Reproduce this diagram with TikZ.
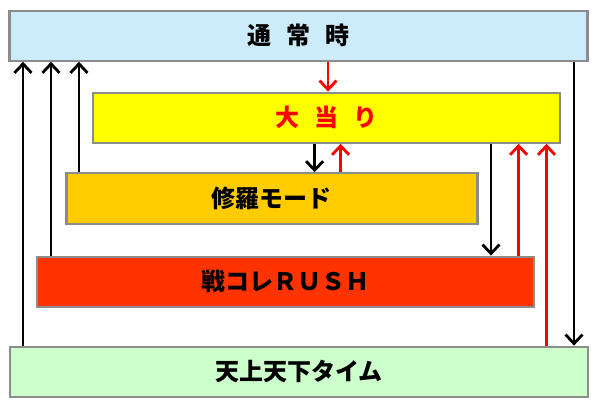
\documentclass[tikz,border=0pt]{standalone}
\usepackage{fontspec}
\newfontfamily\jpfont{Noto Sans CJK JP}
\usetikzlibrary{arrows.meta}
\definecolor{tsujoblue}{HTML}{CCEBFB}
\definecolor{tengegreen}{HTML}{CCFFCC}
\definecolor{atariyellow}{HTML}{FFFF00}
\definecolor{shuraorange}{HTML}{FFCC00}
\definecolor{rushred}{HTML}{FF3300}
\definecolor{boxgray}{HTML}{8C8C8C}
\tikzset{
  modebox/.style={draw=boxgray,line width=2.2pt,minimum height=50pt,inner sep=0pt,
    font=\jpfont\bfseries\fontsize{24}{28}\selectfont},
  blkarrow/.style={line width=2.8pt,-{Straight Barb[length=9pt,width=17pt,line width=2.8pt]}},
  redarrow/.style={blkarrow,draw=red}
}
\begin{document}
\begin{tikzpicture}[x=1pt,y=-1pt]
\useasboundingbox (0,0) rectangle (600,407);
\node[modebox,fill=tsujoblue,minimum width=578pt] (tsujo) at (298.5,35.7){通\hspace{15pt}常\hspace{15pt}時};
\node[modebox,fill=atariyellow,minimum width=467pt,text=red] (atari) at (326.8,117.7){大\hspace{15pt}当\hspace{15pt}り};
\node[modebox,fill=shuraorange,minimum width=411pt,minimum height=51pt] (shura) at (271.9,198.8){修羅モード};
\node[modebox,fill=rushred,minimum width=497pt] (rush) at (285.5,281.7){戦コレＲＵＳＨ};
\node[modebox,fill=tengegreen,minimum width=578pt] (tenge) at (298.8,371.7){天上天下タイム};
% back to normal
\draw[blkarrow] (tenge.north -| 23,0) -- (tsujo.south -| 23,0);
\draw[blkarrow] (rush.north -| 51,0) -- (tsujo.south -| 51,0);
\draw[blkarrow] (shura.north -| 79,0) -- (tsujo.south -| 79,0);
% jackpot
\draw[redarrow] (tsujo.south -| 328,0) -- (atari.north -| 328,0);
\draw[blkarrow] (atari.south -| 314.6,0) -- (shura.north -| 314.6,0);
\draw[redarrow] (shura.north -| 340.6,0) -- (atari.south -| 340.6,0);
\draw[blkarrow] (atari.south -| 491,0) -- (rush.north -| 491,0);
\draw[redarrow] (rush.north -| 518.6,0) -- (atari.south -| 518.6,0);
\draw[redarrow] (tenge.north -| 546.5,0) -- (atari.south -| 546.5,0);
\draw[blkarrow] (tsujo.south -| 574,0) -- (tenge.north -| 574,0);
\end{tikzpicture}
\end{document}
